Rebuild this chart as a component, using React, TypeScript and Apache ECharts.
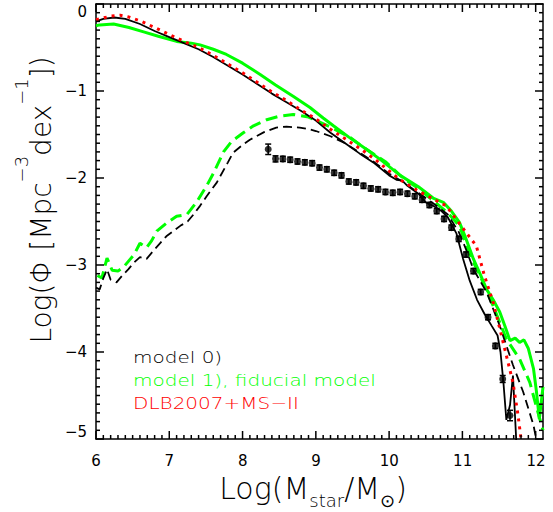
import React, { useEffect, useRef } from 'react';
import * as echarts from 'echarts';

// ---- data (log M_star, log Phi) ----
const model0Solid: [number, number][] = [
  [6.0, -0.2], [6.1, -0.17], [6.25, -0.155], [6.4, -0.17], [6.6, -0.23], [6.8, -0.31], [7.0, -0.38],
  [7.2, -0.45], [7.4, -0.52], [7.6, -0.61], [7.8, -0.71], [8.0, -0.81], [8.2, -0.92], [8.4, -1.03],
  [8.6, -1.13], [8.8, -1.23], [9.0, -1.34], [9.2, -1.48], [9.4, -1.6], [9.6, -1.72], [9.8, -1.83],
  [10.0, -1.97], [10.1, -2.02], [10.18, -2.03], [10.25, -2.09], [10.4, -2.18], [10.5, -2.28],
  [10.6, -2.32], [10.7, -2.37], [10.8, -2.45], [10.92, -2.64], [11.01, -2.93], [11.1, -3.18],
  [11.2, -3.4], [11.3, -3.56], [11.4, -3.7], [11.48, -3.81], [11.52, -4.0], [11.56, -4.35],
  [11.6, -4.78], [11.65, -4.61], [11.69, -4.27], [11.74, -5.1],
];
const model0Dashed: [number, number][] = [
  [6.0, -3.26], [6.05, -3.28], [6.1, -3.15], [6.15, -3.05], [6.2, -3.17], [6.28, -3.2], [6.36, -3.12],
  [6.44, -3.05], [6.52, -2.97], [6.6, -2.91], [6.69, -2.93], [6.8, -2.82], [6.96, -2.67], [7.15, -2.55],
  [7.25, -2.5], [7.33, -2.42], [7.42, -2.32], [7.51, -2.21], [7.65, -2.05], [7.8, -1.82], [7.87, -1.71],
  [8.0, -1.62], [8.1, -1.56], [8.3, -1.47], [8.46, -1.42], [8.6, -1.41], [8.78, -1.42], [8.92, -1.44],
  [9.0, -1.46], [9.2, -1.52], [9.4, -1.6], [9.6, -1.71], [9.8, -1.82], [10.0, -1.95], [10.2, -2.05],
  [10.4, -2.17], [10.6, -2.29], [10.8, -2.42], [10.95, -2.62], [11.05, -2.82], [11.15, -3.05],
  [11.33, -3.31], [11.51, -3.7], [11.69, -4.15], [11.83, -4.46], [11.97, -4.84], [12.03, -5.1],
];
const model1Solid: [number, number][] = [
  [6.0, -0.25], [6.05, -0.24], [6.24, -0.23], [6.45, -0.27], [6.65, -0.32], [6.85, -0.37], [7.1, -0.43],
  [7.3, -0.45], [7.42, -0.47], [7.6, -0.52], [7.78, -0.58], [8.0, -0.68], [8.24, -0.81], [8.45, -0.93],
  [8.69, -1.06], [8.92, -1.19], [9.1, -1.31], [9.24, -1.4], [9.45, -1.53], [9.69, -1.67], [9.9, -1.8],
  [10.15, -1.97], [10.4, -2.1], [10.6, -2.23], [10.74, -2.28], [10.85, -2.38], [10.96, -2.51],
  [11.05, -2.7], [11.15, -2.93], [11.24, -3.1], [11.33, -3.28], [11.42, -3.4], [11.51, -3.54],
  [11.58, -3.7], [11.65, -3.87], [11.72, -3.84], [11.78, -3.89], [11.84, -3.86], [11.9, -3.96],
  [11.97, -4.19], [12.01, -4.45], [12.05, -4.77], [12.1, -4.4],
];
const model1Dashed: [number, number][] = [
  [6.02, -3.12], [6.08, -3.15], [6.15, -2.92], [6.22, -3.06], [6.3, -3.07], [6.38, -3.02], [6.45, -2.95],
  [6.52, -2.88], [6.6, -2.75], [6.69, -2.8], [6.76, -2.72], [6.83, -2.61], [6.96, -2.52], [7.1, -2.44],
  [7.24, -2.42], [7.37, -2.28], [7.51, -2.09], [7.6, -1.95], [7.74, -1.7], [7.85, -1.58], [8.01, -1.48],
  [8.15, -1.4], [8.33, -1.33], [8.5, -1.29], [8.69, -1.27], [8.9, -1.3], [9.19, -1.41], [9.46, -1.53],
  [9.69, -1.67], [9.96, -1.82], [10.19, -2.0], [10.4, -2.12], [10.6, -2.26], [10.8, -2.4], [10.96, -2.55],
  [11.1, -2.88], [11.24, -3.12], [11.42, -3.47], [11.6, -3.85], [11.78, -4.08], [11.92, -4.35],
  [12.03, -4.69], [12.1, -4.9],
];
const dlbDotted: [number, number][] = [
  [6.0, -0.18], [6.2, -0.14], [6.33, -0.13], [6.45, -0.15], [6.62, -0.2], [6.8, -0.27], [7.0, -0.35],
  [7.2, -0.43], [7.4, -0.5], [7.6, -0.59], [7.8, -0.69], [8.0, -0.79], [8.2, -0.9], [8.4, -1.01],
  [8.6, -1.11], [8.8, -1.22], [9.0, -1.32], [9.2, -1.44], [9.4, -1.55], [9.6, -1.66], [9.8, -1.78],
  [10.0, -1.92], [10.15, -2.02], [10.4, -2.15], [10.6, -2.24], [10.78, -2.32], [11.0, -2.57],
  [11.19, -2.78], [11.3, -3.12], [11.42, -3.43], [11.51, -3.73], [11.6, -4.04], [11.69, -4.35],
  [11.76, -4.73], [11.8, -5.0],
];
const obsMass = [
  8.35, 8.45, 8.55, 8.65, 8.75, 8.85, 8.95, 9.05, 9.15, 9.25, 9.35, 9.45, 9.55, 9.65, 9.75, 9.85, 9.95,
  10.05, 10.15, 10.25, 10.35, 10.45, 10.55, 10.65, 10.75, 10.85, 10.95, 11.05, 11.15, 11.25, 11.35,
  11.45, 11.55, 11.65,
];
const obsPhi = [
  -1.67, -1.78, -1.78, -1.79, -1.81, -1.82, -1.83, -1.88, -1.9, -1.94, -1.97, -2.04, -2.05, -2.09,
  -2.12, -2.13, -2.16, -2.17, -2.16, -2.18, -2.21, -2.25, -2.31, -2.38, -2.47, -2.57, -2.7, -2.88,
  -3.07, -3.31, -3.6, -3.93, -4.31, -4.73,
];
const obsErr = [
  0.06, 0.035, 0.03, 0.03, 0.03, 0.03, 0.03, 0.03, 0.03, 0.03, 0.03, 0.03, 0.03, 0.03, 0.03, 0.03,
  0.03, 0.03, 0.03, 0.03, 0.03, 0.03, 0.03, 0.03, 0.03, 0.03, 0.03, 0.03, 0.03, 0.03, 0.03, 0.03,
  0.04, 0.06,
];
const xTickValues = [6, 7, 8, 9, 10, 11, 12];
const xTickLabels = ['6', '7', '8', '9', '10', '11', '12'];
const yTickValues = [0, -1, -2, -3, -4, -5];
const yTickLabels = ['0', '\u22121', '\u22122', '\u22123', '\u22124', '\u22125'];
const MINOR_PER_MAJOR = 10;
const legendLabels = ['model 0)', 'model 1), fiducial model', 'DLB2007+MS\u2212II'];

const X_MIN = 6;
const X_MAX = 12.1;
const Y_MIN = -5;
const Y_MAX = 0;

const FONT = '"DejaVu Sans", "Liberation Sans", sans-serif';
const GREEN = '#00ff00';
const RED = '#ff0000';

function labelFor(values: number[], labels: string[], v: number) {
  const i = values.findIndex((t) => Math.abs(t - v) < 1e-6);
  return i >= 0 ? labels[i] : '';
}

// tick items: [x, y, isMinor, isYAxis]; every item sits inside the axis ranges
function buildTicks(): number[][] {
  const out: number[][] = [];
  const add = (vals: number[], isY: number) => {
    const sorted = [...vals].sort((a, b) => a - b);
    sorted.forEach((v, i) => {
      out.push(isY ? [X_MIN, v, 0, 1] : [v, Y_MIN, 0, 0]);
      if (i < sorted.length - 1) {
        const step = (sorted[i + 1] - v) / MINOR_PER_MAJOR;
        for (let k = 1; k < MINOR_PER_MAJOR; k++) {
          const w = v + k * step;
          out.push(isY ? [X_MIN, w, 1, 1] : [w, Y_MIN, 1, 0]);
        }
      }
    });
  };
  add(xTickValues, 0);
  add(yTickValues, 1);
  return out;
}

export default function App() {
  const ref = useRef<HTMLDivElement>(null);
  useEffect(() => {
    const chart = echarts.init(ref.current!, null, { renderer: 'svg' });
    const boxLine = () => ({ show: true, onZero: false, lineStyle: { color: '#000', width: 1.5 } });
    const option: any = {
      animation: false,
      backgroundColor: '#fff',
      grid: [
        { left: 96, top: 4, width: 447, height: 435 },
        { left: 96, top: 4, width: 440, height: 435 },
      ],
      xAxis: [
        { type: 'value', gridIndex: 0, position: 'bottom', min: X_MIN, max: X_MAX, axisLine: boxLine(),
          axisTick: { show: false }, axisLabel: { show: false }, splitLine: { show: false } },
        { type: 'value', gridIndex: 0, position: 'top', min: X_MIN, max: X_MAX, axisLine: boxLine(),
          axisTick: { show: false }, axisLabel: { show: false }, splitLine: { show: false } },
        { type: 'value', gridIndex: 1, position: 'bottom', min: 6, max: 12, interval: 1,
          axisLine: { show: false, onZero: false }, axisTick: { show: false }, splitLine: { show: false },
          axisLabel: { show: true, margin: 14, fontSize: 15, color: '#000', fontFamily: FONT,
            formatter: (v: number) => labelFor(xTickValues, xTickLabels, v) } },
      ],
      yAxis: [
        { type: 'value', gridIndex: 0, position: 'left', min: Y_MIN, max: Y_MAX, interval: 1,
          axisLine: boxLine(), axisTick: { show: false }, splitLine: { show: false },
          axisLabel: { show: true, margin: 9, fontSize: 15, color: '#000', fontFamily: FONT,
            verticalAlignMaxLabel: 'top', verticalAlignMinLabel: 'bottom',
            formatter: (v: number) => labelFor(yTickValues, yTickLabels, v) } },
        { type: 'value', gridIndex: 0, position: 'right', min: Y_MIN, max: Y_MAX, interval: 1,
          axisLine: boxLine(), axisTick: { show: false }, splitLine: { show: false },
          axisLabel: { show: false } },
        { type: 'value', gridIndex: 1, min: -5, max: 0, show: false },
      ],
      series: [
        { type: 'line', name: 'm1s', data: model1Solid, showSymbol: false, symbol: 'none',
          lineStyle: { color: GREEN, width: 3 }, z: 2 },
        { type: 'line', name: 'm1d', data: model1Dashed, showSymbol: false, symbol: 'none',
          lineStyle: { color: GREEN, width: 3, type: [12, 6] }, z: 2 },
        { type: 'line', name: 'm0d', data: model0Dashed, showSymbol: false, symbol: 'none',
          lineStyle: { color: '#000', width: 1.8, type: [9, 5] }, z: 3 },
        { type: 'line', name: 'm0s', data: model0Solid, showSymbol: false, symbol: 'none',
          lineStyle: { color: '#000', width: 1.8 }, z: 3 },
        { type: 'line', name: 'dlb', data: dlbDotted, showSymbol: false, symbol: 'none',
          lineStyle: { color: RED, width: 3, type: [3, 5], cap: 'butt' }, z: 4 },
        { type: 'custom', name: 'err', z: 5,
          data: obsMass.map((m, i) => [m, obsPhi[i], obsErr[i]]),
          renderItem: (params: any, api: any) => {
            const x = api.value(0), y = api.value(1), e = api.value(2);
            const t = api.coord([x, y + e]);
            const b = api.coord([x, y - e]);
            const st = { stroke: '#000', lineWidth: 1.5 };
            return { type: 'group', children: [
              { type: 'line', shape: { x1: t[0], y1: t[1], x2: b[0], y2: b[1] }, style: st },
              { type: 'line', shape: { x1: t[0] - 3, y1: t[1], x2: t[0] + 3, y2: t[1] }, style: st },
              { type: 'line', shape: { x1: b[0] - 3, y1: b[1], x2: b[0] + 3, y2: b[1] }, style: st },
            ] };
          } },
        { type: 'scatter', name: 'obs', data: obsMass.map((m, i) => [m, obsPhi[i]]), symbol: 'circle',
          symbolSize: 7, itemStyle: { color: '#000' }, z: 6 },
        { type: 'custom', name: 'axisTicks', z: 8,
          data: buildTicks(),
          renderItem: (params: any, api: any) => {
            const x = api.value(0), y = api.value(1), minor = api.value(2), isY = api.value(3);
            const len = minor ? 4 : 8;
            const tl = api.coord([X_MIN, Y_MAX]);
            const br = api.coord([X_MAX, Y_MIN]);
            const p = api.coord([x, y]);
            const st = { stroke: '#000', lineWidth: 1.5 };
            if (!isY) {
              const px = p[0];
              return { type: 'group', children: [
                { type: 'line', shape: { x1: px, y1: br[1], x2: px, y2: br[1] - len }, style: st },
                { type: 'line', shape: { x1: px, y1: tl[1], x2: px, y2: tl[1] + len }, style: st },
              ] };
            }
            const py = p[1];
            return { type: 'group', children: [
              { type: 'line', shape: { x1: tl[0], y1: py, x2: tl[0] + len, y2: py }, style: st },
              { type: 'line', shape: { x1: br[0], y1: py, x2: br[0] - len, y2: py }, style: st },
            ] };
          } },
      ],
      graphic: [
        { type: 'text', x: 133, y: 357, scaleX: 1.25,
          style: { text: legendLabels[0], fill: '#000', fontSize: 16, fontFamily: FONT, fontWeight: 200,
            align: 'left', verticalAlign: 'middle' } },
        { type: 'text', x: 133, y: 380, scaleX: 1.25,
          style: { text: legendLabels[1], fill: GREEN, fontSize: 16, fontFamily: FONT, fontWeight: 200,
            align: 'left', verticalAlign: 'middle' } },
        { type: 'text', x: 133, y: 403, scaleX: 1.25,
          style: { text: legendLabels[2], fill: RED, fontSize: 16, fontFamily: FONT, fontWeight: 200,
            align: 'left', verticalAlign: 'middle' } },
        { type: 'text', x: 313, y: 488,
          style: { text: '{a|Log(M}{s|star}{a|/M}{s|\u2299}{a|)}', align: 'center', verticalAlign: 'middle',
            fill: '#000',
            rich: {
              a: { fontSize: 30, fontFamily: FONT, fontWeight: 200, fill: '#000' },
              s: { fontSize: 18, fontFamily: FONT, fontWeight: 200, fill: '#000', padding: [24, 0, 0, 0] },
            } } },
        { type: 'text', x: 41, y: 200, rotation: Math.PI / 2,
          style: { text: '{a|Log(\u03A6 [Mpc}{p|\u22123}{a|dex}{p|\u22121}{a|])}', align: 'center',
            verticalAlign: 'middle', fill: '#000',
            rich: {
              a: { fontSize: 28, fontFamily: FONT, fontWeight: 200, fill: '#000' },
              p: { fontSize: 18, fontFamily: FONT, fontWeight: 200, fill: '#000', padding: [0, 0, 40, 0] },
            } } },
      ],
    };
    chart.setOption(option);
    return () => chart.dispose();
  }, []);
  return <div ref={ref} style={{ position: 'fixed', left: 0, top: 0, width: 553, height: 512 }} />;
}
